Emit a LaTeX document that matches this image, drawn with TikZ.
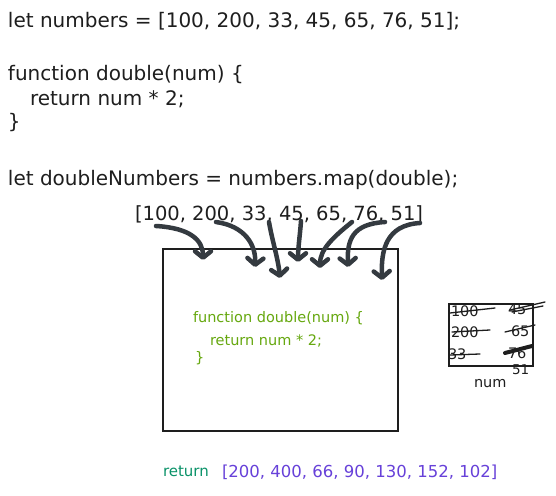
\documentclass[tikz,border=0pt]{standalone}
\usepackage{fontspec}
\setmainfont{DejaVu Sans}
\usetikzlibrary{arrows.meta}
\definecolor{inkblack}{HTML}{1E1E1E}
\definecolor{inkgrey}{HTML}{343A40}
\definecolor{inkgreen}{HTML}{66A80F}
\definecolor{inkteal}{HTML}{099268}
\definecolor{inkviolet}{HTML}{6741D9}
\newcommand{\fCode}{\fontsize{20}{24}\selectfont}
\newcommand{\fArr}{\fontsize{19.5}{23}\selectfont}
\newcommand{\fFn}{\fontsize{14.5}{17}\selectfont}
\newcommand{\fRet}{\fontsize{15}{18}\selectfont}
\newcommand{\fRes}{\fontsize{16.5}{20}\selectfont}
\newcommand{\fNum}{\fontsize{14.5}{17}\selectfont}
\newcommand{\fSm}{\fontsize{13.5}{16}\selectfont}

\begin{document}
\begin{tikzpicture}[x=1pt,y=-1pt,
    txt/.style={inner sep=0pt,outer sep=0pt,anchor=base west,text=inkblack},
    frame/.style={draw=inkblack,line width=1.6pt},
    strike/.style={draw=inkblack,line width=1.3pt,line cap=round},
    flow/.style={draw=inkgrey,line width=4.5pt,line cap=round,line join=round,
      -{Straight Barb[length=6.5pt,width=16pt,round]}}]
  \path[use as bounding box,fill=white] (0,0) rectangle (556,495);

  % source code
  \node[txt] (decl) at (8,28) {\fCode let numbers = [100, 200, 33, 45, 65, 76, 51];};
  \node[txt] (fnhead) at (8,80) {\fCode function double(num) \{};
  \node[txt] (fnbody) at (30,105) {\fCode return num * 2;};
  \node[txt] (fnend) at (8,128) {\fCode \}};
  \node[txt] (call) at (8,185) {\fCode let doubleNumbers = numbers.map(double);};

  % input array and the map box
  \node[txt] (input) at (135,220) {\fArr [100, 200, 33, 45, 65, 76, 51]};
  \draw[frame] (163,249) rectangle (398,431);
  \node[txt,text=inkgreen] (inhead) at (193,322) {\fFn function double(num) \{};
  \node[txt,text=inkgreen] (inbody) at (210,345) {\fFn return num * 2;};
  \node[txt,text=inkgreen] (inend) at (195,362) {\fFn \}};

  % each element goes into the box
  \coordinate (s1) at (156,226);  \coordinate (e1) at (203,260);
  \coordinate (s2) at (216,222);  \coordinate (e2) at (255,267);
  \coordinate (s3) at (269,222);  \coordinate (e3) at (280,278);
  \coordinate (s4) at (301,221);  \coordinate (e4) at (298,262);
  \coordinate (s5) at (352,222);  \coordinate (e5) at (320,268);
  \coordinate (s6) at (385,222);  \coordinate (e6) at (348,267);
  \coordinate (s7) at (420,223);  \coordinate (e7) at (382,280);
  \draw[flow] (s1) .. controls (190,228) and (203,240) .. (e1);
  \draw[flow] (s2) .. controls (245,226) and (256,245) .. (e2);
  \draw[flow] (s3) .. controls (272,240) and (278,258) .. (e3);
  \draw[flow] (s4) .. controls (300,235) and (298,248) .. (e4);
  \draw[flow] (s5) .. controls (332,238) and (320,250) .. (e5);
  \draw[flow] (s6) .. controls (352,224) and (347,240) .. (e6);
  \draw[flow] (s7) .. controls (386,225) and (381,250) .. (e7);

  % the num slot, values already used are struck out
  \draw[frame,line width=1.2pt] (449,304) rectangle (533,366);
  \node[txt] (n100) at (451,316) {\fNum 100};
  \node[txt] (n45) at (508,314) {\fNum 45};
  \node[txt] (n200) at (451,337) {\fNum 200};
  \node[txt] (n65) at (511,336) {\fNum 65};
  \node[txt] (n33) at (448,359) {\fNum 33};
  \node[txt] (n76) at (508,358) {\fNum 76};
  \draw[strike] (450,313) -- (495,308);
  \draw[strike] (510,310) -- (545,302);
  \draw[strike] (512,312) -- (543,306);
  \draw[strike] (452,332) -- (490,330);
  \draw[strike] (505,332) -- (535,325);
  \draw[strike] (450,355) -- (480,354);
  \draw[strike,line width=4pt] (505,353) -- (532,346);
  \node[txt] (n51) at (512,374) {\fSm 51};
  \node[txt] (slot) at (474,387) {\fNum num};

  % result
  \node[txt,text=inkteal] (ret) at (163,476) {\fRet return};
  \node[txt,text=inkviolet] (result) at (222,477) {\fRes [200, 400, 66, 90, 130, 152, 102]};
\end{tikzpicture}
\end{document}
